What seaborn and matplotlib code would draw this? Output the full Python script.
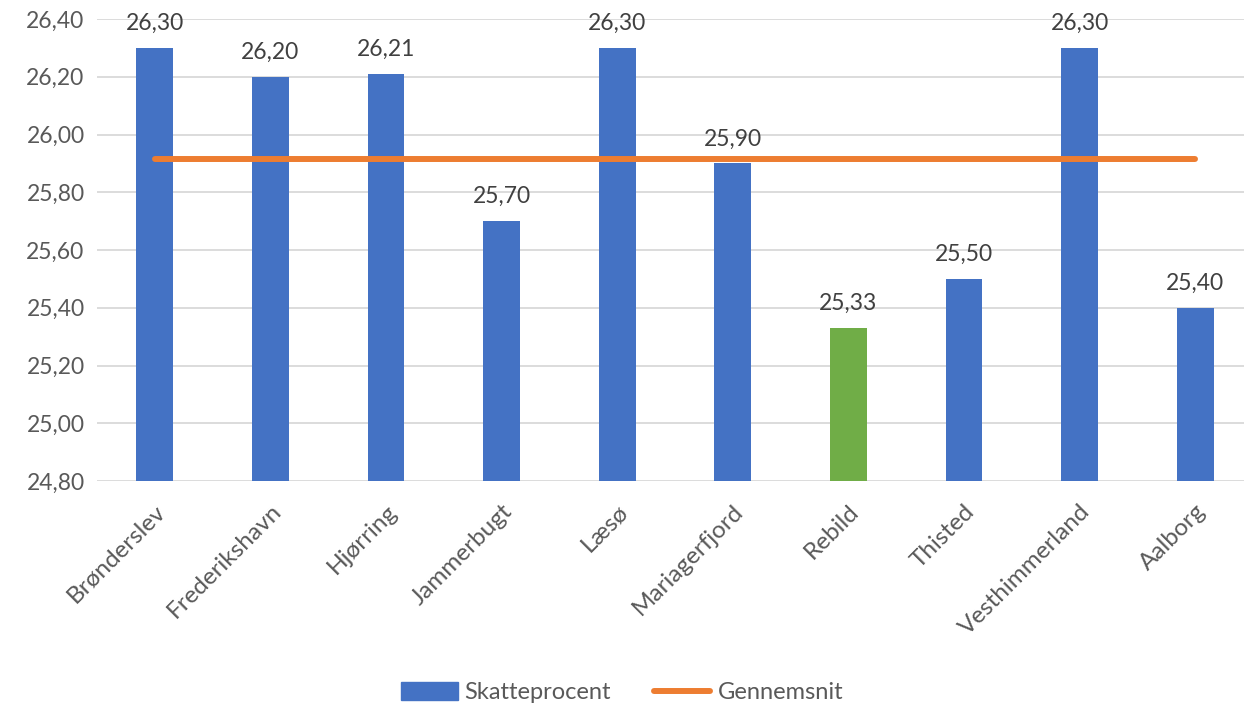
import pandas as pd
import matplotlib
matplotlib.use('Agg')
import matplotlib.pyplot as plt
from matplotlib.patches import Patch
from matplotlib.lines import Line2D
import seaborn as sns

sns.set_theme(style='white')
plt.rcParams['font.family'] = ['Lato', 'DejaVu Sans']

# data
kommuner = ['Brønderslev', 'Frederikshavn', 'Hjørring', 'Jammerbugt', 'Læsø',
            'Mariagerfjord', 'Rebild', 'Thisted', 'Vesthimmerland', 'Aalborg']
skatteprocent = [26.30, 26.20, 26.21, 25.70, 26.30, 25.90, 25.33, 25.50, 26.30, 25.40]
yticks = [24.80, 25.00, 25.20, 25.40, 25.60, 25.80, 26.00, 26.20, 26.40]

blue = '#4472C4'
green = '#70AD47'
orange = '#ED7D31'
txt = '#595959'

gennemsnit = sum(skatteprocent) / len(skatteprocent)
df = pd.DataFrame({'Kommune': kommuner, 'Skatteprocent': skatteprocent})
df['Gennemsnit'] = gennemsnit
farver = [green if k == 'Rebild' else blue for k in kommuner]

fig = plt.figure(figsize=(12.44, 7.07), dpi=100)
ax = fig.add_axes([97 / 1244, 1 - 481 / 707, 1156 / 1244, 462 / 707])

sns.barplot(data=df, x='Kommune', y='Skatteprocent', hue='Kommune',
            palette=farver, legend=False, width=0.32, saturation=1,
            edgecolor='none', ax=ax)
sns.lineplot(data=df, x='Kommune', y='Gennemsnit', color=orange, lw=4.3,
             solid_capstyle='round', ax=ax)

for c in ax.containers:
    ax.bar_label(c, labels=[f'{v:.2f}'.replace('.', ',') for v in c.datavalues],
                 padding=10, fontsize=16.5, color='#404040')

ax.set_ylim(24.8, 26.4)
ax.set_xlim(-0.5, 9.5)
ax.set_yticks(yticks)
ax.set_yticklabels([f'{v:.2f}'.replace('.', ',') for v in yticks], fontsize=16.5, color=txt)
ax.set_xticks(range(len(kommuner)))
ax.set_xticklabels(kommuner, rotation=45, ha='right', rotation_mode='anchor',
                   fontsize=17.5, color=txt)
ax.tick_params(axis='both', length=0)
ax.tick_params(axis='y', pad=9)
ax.tick_params(axis='x', pad=14)
ax.set_xlabel('')
ax.set_ylabel('')
ax.yaxis.grid(True, color='#D9D9D9', lw=1.3)
ax.set_axisbelow(True)
sns.despine(ax=ax, left=True, bottom=True, top=True, right=True)

handles = [Patch(color=blue, label='Skatteprocent'),
           Line2D([0], [0], color=orange, lw=4.3, solid_capstyle='round', label='Gennemsnit')]
leg = fig.legend(handles=handles, loc='lower center', bbox_to_anchor=(0.5, -0.025), ncol=2,
                 frameon=False, fontsize=17, handlelength=2.4, handleheight=0.8,
                 handletextpad=0.3, columnspacing=1.8)
for t in leg.get_texts():
    t.set_color(txt)

fig.savefig('out.png', dpi=100)
